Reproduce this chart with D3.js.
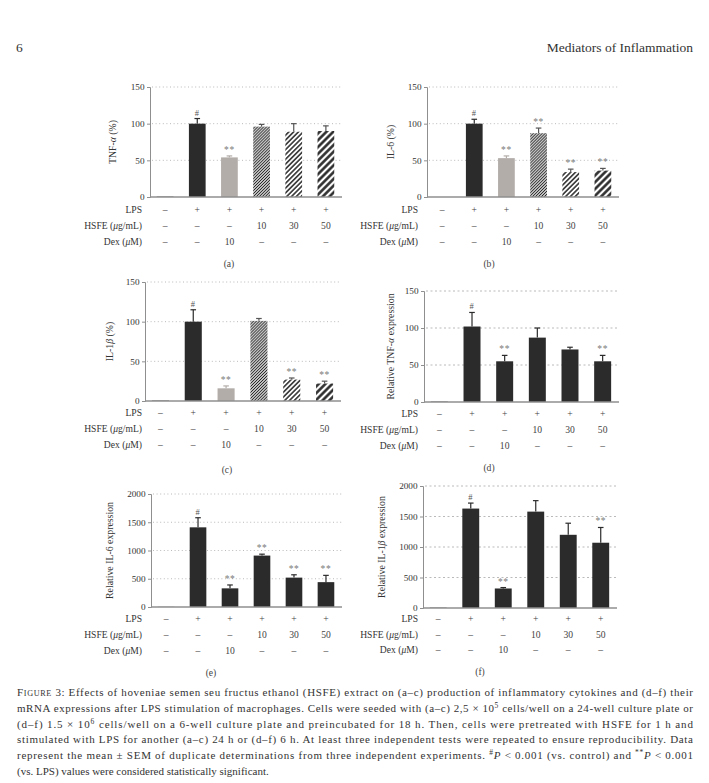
<!DOCTYPE html>
<html>
<head>
<meta charset="utf-8">
<script src="https://cdn.jsdelivr.net/npm/d3@7"></script>
<style>
  html, body { margin: 0; padding: 0; background: #fff; }
  svg { display: block; font-family: "Liberation Serif", "DejaVu Serif", serif; }
</style>
</head>
<body>
<div id="chart"></div>
<script>
// Treatment groups (shared by all six panels)
const groups = ['Control', 'LPS', 'Dex', 'HSFE10', 'HSFE30', 'HSFE50'];
const lpsRow = ['–', '+', '+', '+', '+', '+'];
const hsfeRow = ['–', '–', '–', '10', '30', '50'];
const dexRow = ['–', '–', '10', '–', '–', '–'];

// (a) TNF-α (%)
const tnfPct = [1, 100, 54, 96, 89, 90];
const tnfPctErr = [0, 7, 2, 3, 11, 7];
const tnfPctSig = ['', '#', '**', '', '', ''];

// (b) IL-6 (%)
const il6Pct = [0, 100, 53, 87, 34, 36];
const il6PctErr = [0, 6, 3, 7, 4, 3];
const il6PctSig = ['', '#', '**', '**', '**', '**'];

// (c) IL-1β (%)
const il1bPct = [1, 100, 16, 101, 27, 22];
const il1bPctErr = [0, 15, 3, 3, 2, 3];
const il1bPctSig = ['', '#', '**', '', '**', '**'];

// (d) Relative TNF-α expression
const tnfRel = [1, 102, 55, 87, 71, 55];
const tnfRelErr = [0, 19, 8, 13, 3, 8];
const tnfRelSig = ['', '#', '**', '', '', '**'];

// (e) Relative IL-6 expression
const il6Rel = [5, 1410, 330, 910, 520, 440];
const il6RelErr = [0, 170, 60, 25, 50, 120];
const il6RelSig = ['', '#', '**', '**', '**', '**'];

// (f) Relative IL-1β expression
const il1bRel = [10, 1630, 320, 1580, 1200, 1070];
const il1bRelErr = [0, 90, 15, 180, 190, 250];
const il1bRelSig = ['', '#', '**', '', '', '**'];

const pctTicks = [0, 50, 100, 150];
const relTicks = [0, 500, 1000, 1500, 2000];

const W = 709, H = 783;
const DARK = '#2b2b2b';
const GREY_BAR = '#b3ada9';
const CTRL = '#8c8c8c';
const AXIS = '#8f8f8f';
const SIG = '#7a7a7a';
const FS = 9.6; // label size used in the panels

const svg = d3.select('#chart').append('svg')
  .attr('width', W)
  .attr('height', H)
  .attr('viewBox', `0 0 ${W} ${H}`);

svg.append('rect').attr('width', W).attr('height', H).attr('fill', '#fff');

// Hatch patterns for the HSFE bars of panels a-c
const defs = svg.append('defs');
function addHatch(id, spacing, lw) {
  const p = defs.append('pattern')
    .attr('id', id)
    .attr('patternUnits', 'userSpaceOnUse')
    .attr('width', spacing)
    .attr('height', spacing)
    .attr('patternTransform', 'rotate(45)');
  p.append('rect').attr('width', spacing).attr('height', spacing).attr('fill', '#fff');
  p.append('line')
    .attr('x1', spacing / 2).attr('y1', 0)
    .attr('x2', spacing / 2).attr('y2', spacing)
    .attr('stroke', '#262626')
    .attr('stroke-width', lw);
}
addHatch('hatch-fine', 2.1, 1.1);
addHatch('hatch-mid', 3.4, 1.5);
addHatch('hatch-wide', 4.8, 2.5);

const fillsABC = [CTRL, DARK, GREY_BAR, 'url(#hatch-fine)', 'url(#hatch-mid)', 'url(#hatch-wide)'];
const fillsDEF = [CTRL, DARK, DARK, DARK, DARK, DARK];

const panels = [
  { values: tnfPct, errs: tnfPctErr, sig: tnfPctSig, ticks: pctTicks, title: ['TNF-', 'α', ' (%)'],
    x0: 150, x1: 342, yTop: 87, yBase: 197, titleX: 116, labelRight: 142,
    rowY: [213, 229, 245], label: '(a)', labelX: 229, labelY: 267, fills: fillsABC, dash: '1,2.6' },
  { values: il6Pct, errs: il6PctErr, sig: il6PctSig, ticks: pctTicks, title: ['IL-6 (%)'],
    x0: 427, x1: 619, yTop: 87, yBase: 197, titleX: 394, labelRight: 418,
    rowY: [213, 229, 245], label: '(b)', labelX: 489, labelY: 267, fills: fillsABC, dash: '1,2.6' },
  { values: il1bPct, errs: il1bPctErr, sig: il1bPctSig, ticks: pctTicks, title: ['IL-1', 'β', ' (%)'],
    x0: 145, x1: 341, yTop: 282, yBase: 401, titleX: 113, labelRight: 142,
    rowY: [416, 432, 448], label: '(c)', labelX: 227, labelY: 473, fills: fillsABC, dash: '1,2.6' },
  { values: tnfRel, errs: tnfRelErr, sig: tnfRelSig, ticks: pctTicks, title: ['Relative TNF-', 'α', ' expression'],
    x0: 424, x1: 619, yTop: 291, yBase: 402, titleX: 394, labelRight: 418,
    rowY: [417, 433, 449], label: '(d)', labelX: 489, labelY: 471, fills: fillsDEF, dash: '2,2.5' },
  { values: il6Rel, errs: il6RelErr, sig: il6RelSig, ticks: relTicks, title: ['Relative IL-6 expression'],
    x0: 151, x1: 342, yTop: 494, yBase: 607, titleX: 113, labelRight: 142,
    rowY: [622, 638, 654], label: '(e)', labelX: 211, labelY: 676, fills: fillsDEF, dash: '1,2.6' },
  { values: il1bRel, errs: il1bRelErr, sig: il1bRelSig, ticks: relTicks, title: ['Relative IL-1', 'β', ' expression'],
    x0: 423, x1: 617, yTop: 486, yBase: 608, titleX: 385, labelRight: 418,
    rowY: [622, 638, 653], label: '(f)', labelX: 480, labelY: 675, fills: fillsDEF, dash: '2,2.5' }
];

panels.forEach(drawPanel);

function drawPanel(cfg) {
  const g = svg.append('g');
  const max = d3.max(cfg.ticks);

  const x = d3.scaleBand()
    .domain(groups)
    .range([cfg.x0, cfg.x1 - 1])
    .paddingInner(0.48)
    .paddingOuter(0.21);

  const y = d3.scaleLinear()
    .domain([0, max])
    .range([cfg.yBase, cfg.yTop]);

  // dotted gridlines
  g.append('g')
    .selectAll('line')
    .data(cfg.ticks.filter(t => t > 0))
    .join('line')
    .attr('x1', cfg.x0 + 2)
    .attr('x2', cfg.x1)
    .attr('y1', d => y(d))
    .attr('y2', d => y(d))
    .attr('stroke', '#a8a8a8')
    .attr('stroke-width', 0.8)
    .attr('stroke-dasharray', cfg.dash);

  // bars
  g.append('g')
    .selectAll('rect')
    .data(cfg.values)
    .join('rect')
    .attr('x', (d, i) => x(groups[i]))
    .attr('width', x.bandwidth())
    .attr('y', d => y(d))
    .attr('height', d => cfg.yBase - y(d))
    .attr('fill', (d, i) => cfg.fills[i]);

  // error bars (upper half only)
  const eb = g.append('g');
  cfg.values.forEach((v, i) => {
    if (!cfg.errs[i]) return;
    const cx = x(groups[i]) + x.bandwidth() / 2;
    const col = cfg.fills[i] === GREY_BAR ? GREY_BAR : (cfg.fills[i].startsWith('url') ? '#555' : DARK);
    eb.append('line')
      .attr('x1', cx).attr('x2', cx)
      .attr('y1', y(v)).attr('y2', y(v + cfg.errs[i]))
      .attr('stroke', col).attr('stroke-width', 1.2);
    eb.append('line')
      .attr('x1', cx - 2.8).attr('x2', cx + 2.8)
      .attr('y1', y(v + cfg.errs[i])).attr('y2', y(v + cfg.errs[i]))
      .attr('stroke', col).attr('stroke-width', 1.2);
  });

  // significance marks
  g.append('g')
    .selectAll('text')
    .data(cfg.values)
    .join('text')
    .attr('x', (d, i) => x(groups[i]) + x.bandwidth() / 2)
    .attr('y', (d, i) => y(d + cfg.errs[i]) - 3)
    .attr('text-anchor', 'middle')
    .attr('font-size', (d, i) => cfg.sig[i] === '#' ? 8.5 : 9.5)
    .attr('letter-spacing', 0.6)
    .attr('fill', (d, i) => cfg.sig[i] === '#' ? '#555' : SIG)
    .text((d, i) => cfg.sig[i]);

  // y axis
  const yAxis = d3.axisLeft(y)
    .tickValues(cfg.ticks)
    .tickSize(3)
    .tickPadding(2.5)
    .tickFormat(d3.format('d'));
  const ay = g.append('g')
    .attr('transform', `translate(${cfg.x0},0)`)
    .call(yAxis);
  ay.select('.domain').attr('stroke', AXIS).attr('stroke-width', 1);
  ay.selectAll('.tick line').attr('stroke', AXIS);
  ay.selectAll('.tick text')
    .attr('font-family', '"Liberation Serif", serif')
    .attr('font-size', 9.2)
    .attr('fill', '#333');

  // baseline
  g.append('line')
    .attr('x1', cfg.x0).attr('x2', cfg.x1)
    .attr('y1', cfg.yBase).attr('y2', cfg.yBase)
    .attr('stroke', AXIS).attr('stroke-width', 1.6);

  // y title
  const tt = g.append('text')
    .attr('transform', `translate(${cfg.titleX},${(cfg.yTop + cfg.yBase) / 2}) rotate(-90)`)
    .attr('text-anchor', 'middle')
    .attr('font-size', 9.8)
    .attr('fill', '#333');
  cfg.title.forEach(part => {
    tt.append('tspan')
      .attr('font-style', (part === 'α' || part === 'β') ? 'italic' : null)
      .text(part);
  });

  // treatment rows
  const rows = [
    { name: [['LPS', null]], cells: lpsRow },
    { name: [['HSFE (', null], ['μ', 'italic'], ['g/mL)', null]], cells: hsfeRow },
    { name: [['Dex (', null], ['μ', 'italic'], ['M)', null]], cells: dexRow }
  ];
  rows.forEach((row, r) => {
    const ty = cfg.rowY[r];
    const lab = g.append('text')
      .attr('x', cfg.labelRight)
      .attr('y', ty)
      .attr('text-anchor', 'end')
      .attr('font-size', FS)
      .attr('fill', '#333');
    row.name.forEach(([t, st]) => lab.append('tspan').attr('font-style', st).text(t));

    g.append('g')
      .selectAll('text')
      .data(row.cells)
      .join('text')
      .attr('x', (d, i) => x(groups[i]) + x.bandwidth() / 2)
      .attr('y', ty)
      .attr('text-anchor', 'middle')
      .attr('font-size', FS)
      .attr('fill', '#444')
      .text(d => d);
  });

  g.append('text')
    .attr('x', cfg.labelX)
    .attr('y', cfg.labelY)
    .attr('text-anchor', 'middle')
    .attr('font-size', FS)
    .attr('fill', '#444')
    .text(cfg.label);
}

// running header
svg.append('text')
  .attr('x', 16).attr('y', 52)
  .attr('font-size', 13.5).attr('fill', '#333')
  .text('6');
svg.append('text')
  .attr('x', 693).attr('y', 52)
  .attr('text-anchor', 'end')
  .attr('font-size', 13.5).attr('fill', '#333')
  .text('Mediators of Inflammation');

// caption
const captionLines = [
  [['F', {}], ['IGURE', { size: 8.2 }], [' 3: Effects of hoveniae semen seu fructus ethanol (HSFE) extract on (a–c) production of inflammatory cytokines and (d–f) their', {}]],
  [['mRNA expressions after LPS stimulation of macrophages. Cells were seeded with (a–c) 2,5 × 10', {}], ['5', { sup: true }], [' cells/well on a 24-well culture plate or', {}]],
  [['(d–f) 1.5 × 10', {}], ['6', { sup: true }], [' cells/well on a 6-well culture plate and preincubated for 18 h. Then, cells were pretreated with HSFE for 1 h and', {}]],
  [['stimulated with LPS for another (a–c) 24 h or (d–f) 6 h. At least three independent tests were repeated to ensure reproducibility. Data', {}]],
  [['represent the mean ± SEM of duplicate determinations from three independent experiments. ', {}], ['#', { sup: true }], ['P', { italic: true }], [' < 0.001 (vs. control) and ', {}], ['**', { sup: true }], ['P', { italic: true }], [' < 0.001', {}]],
  [['(vs. LPS) values were considered statistically significant.', {}]]
];

captionLines.forEach((parts, i) => {
  const t = svg.append('text')
    .attr('x', 17)
    .attr('y', 696 + i * 15.8)
    .attr('font-size', 11)
    .attr('fill', '#333');
  if (i < captionLines.length - 1) {
    t.attr('textLength', 676).attr('lengthAdjust', 'spacing');
  }
  parts.forEach(([s, o]) => {
    const sp = t.append('tspan').text(s);
    if (o.size) sp.attr('font-size', o.size);
    if (o.italic) sp.attr('font-style', 'italic');
    if (o.sup) sp.attr('font-size', 7.5).attr('baseline-shift', 'super');
  });
});
</script>
</body>
</html>
